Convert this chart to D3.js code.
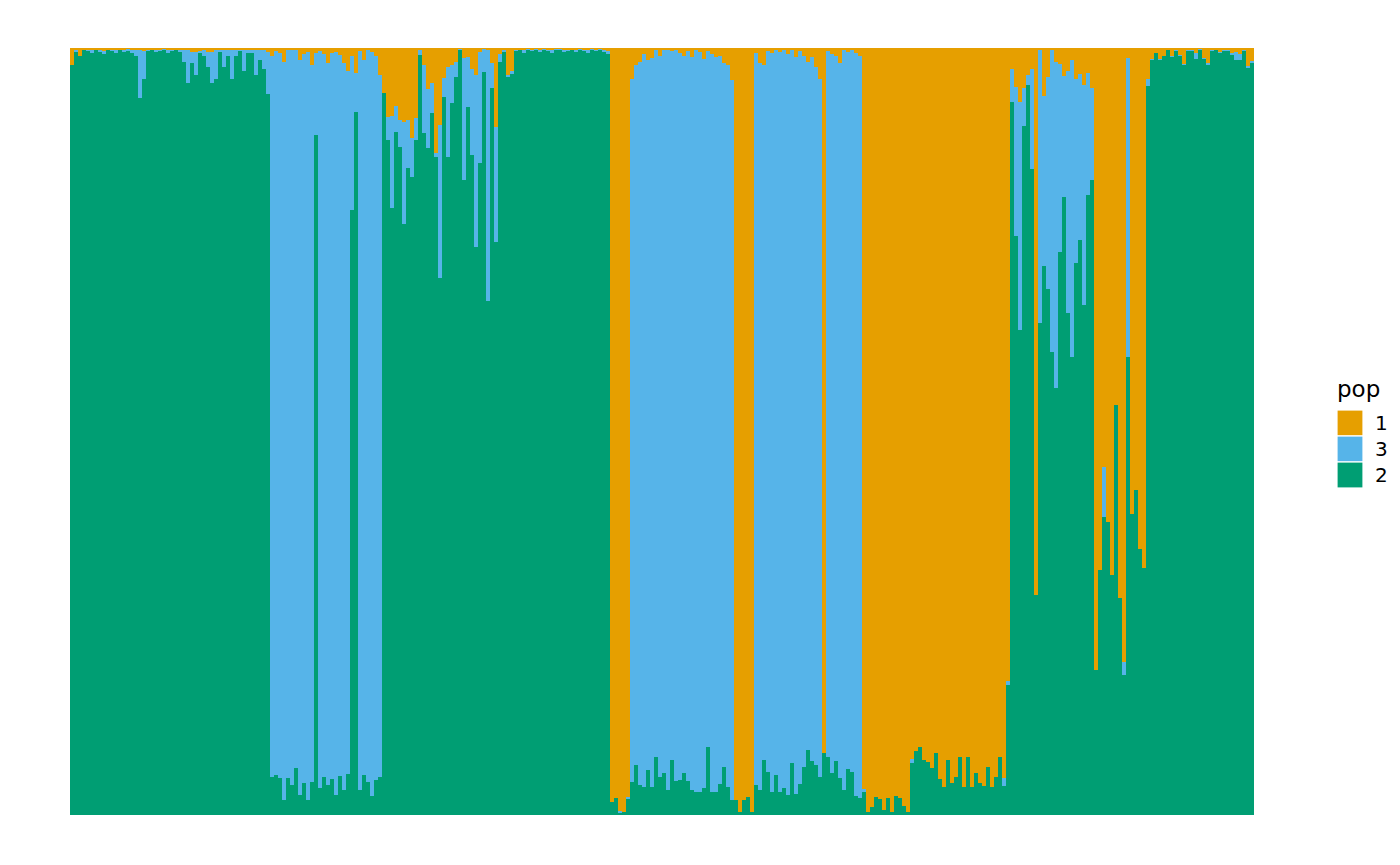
<!DOCTYPE html>
<html>
<head>
<meta charset="utf-8">
<script src="https://cdn.jsdelivr.net/npm/d3@7"></script>
<style>
  body { margin: 0; background: #fff; }
</style>
</head>
<body>
<div id="chart"></div>
<script>
// admixture proportions per individual (left to right)
// pop 2 = green (bottom), pop 3 = blue (middle), pop 1 = the rest (orange, top)
var pop2 = [
  0.978, 0.995, 0.99, 0.997, 0.996, 0.994, 0.997, 0.995, 0.992, 0.997,
  0.996, 0.993, 0.997, 0.995, 0.996, 0.994, 0.99, 0.935, 0.96, 0.996,
  0.997, 0.995, 0.996, 0.998, 0.994, 0.996, 0.997, 0.995, 0.982, 0.955,
  0.98, 0.965, 0.994, 0.99, 0.975, 0.955, 0.96, 0.995, 0.975, 0.99,
  0.96, 0.99, 0.996, 0.97, 0.993, 0.994, 0.965, 0.985, 0.972, 0.94,
  0.05, 0.052, 0.048, 0.02, 0.048, 0.039, 0.061, 0.026, 0.042, 0.02,
  0.043, 0.887, 0.035, 0.05, 0.039, 0.047, 0.026, 0.051, 0.033, 0.053,
  0.789, 0.917, 0.033, 0.052, 0.043, 0.025, 0.046, 0.05,
  0.941, 0.88, 0.792, 0.89, 0.871, 0.77, 0.843, 0.832, 0.88, 0.991,
  0.889, 0.87, 0.915, 0.858, 0.70, 0.936, 0.858, 0.928, 0.962, 0.998,
  0.828, 0.923, 0.86, 0.74, 0.85, 0.969, 0.67, 0.948, 0.747, 0.982,
  0.995, 0.962, 0.966, 0.996, 0.997, 0.994, 0.997, 0.996, 0.998, 0.995,
  0.997, 0.996, 0.994, 0.997, 0.998, 0.995, 0.996, 0.997, 0.995, 0.998,
  0.996, 0.994, 0.997, 0.996, 0.998, 0.995, 0.992,
  0.017, 0.022, 0.003, 0.004, 0.021,
  0.043, 0.065, 0.039, 0.036, 0.059, 0.036, 0.076, 0.05, 0.055, 0.033,
  0.072, 0.044, 0.046, 0.055, 0.044, 0.033, 0.03, 0.03, 0.035, 0.089,
  0.03, 0.03, 0.04, 0.062, 0.037, 0.02,
  0.02, 0.004, 0.02, 0.024, 0.004,
  0.039, 0.032, 0.072, 0.056, 0.03, 0.052, 0.03, 0.035, 0.026, 0.068,
  0.028, 0.04, 0.063, 0.085, 0.07, 0.065, 0.05,
  0.081,
  0.075, 0.055, 0.07, 0.048, 0.033, 0.06, 0.056, 0.025, 0.022,
  0.03, 0.004, 0.01, 0.023, 0.021, 0.006, 0.022, 0.004, 0.025, 0.022,
  0.012, 0.004, 0.068, 0.084, 0.089, 0.072, 0.069, 0.061, 0.081, 0.047,
  0.037, 0.072, 0.042, 0.05, 0.076, 0.037, 0.076, 0.037, 0.055, 0.042,
  0.038, 0.063, 0.036, 0.05, 0.076, 0.038,
  0.17, 0.93, 0.755, 0.632, 0.898, 0.952, 0.842, 0.287, 0.641, 0.716,
  0.686, 0.604, 0.557, 0.734, 0.806, 0.654, 0.597, 0.72, 0.75, 0.665,
  0.808, 0.828, 0.189, 0.319, 0.389, 0.382, 0.313, 0.535, 0.283, 0.183,
  0.597, 0.392, 0.424, 0.347, 0.322,
  0.95, 0.984, 0.993, 0.984, 0.989, 0.997, 0.988, 0.996, 0.989, 0.978,
  0.996, 0.996, 0.986, 0.997, 0.986, 0.978, 0.996, 0.997, 0.993, 0.996,
  0.996, 0.991, 0.985, 0.984, 0.996, 0.974, 0.98
];
var pop3 = [
  0, 0.002, 0, 0.001, 0.002, 0.004, 0.001, 0.003, 0.004, 0.001,
  0.002, 0.005, 0.001, 0.002, 0.003, 0.004, 0.008, 0.062, 0.036, 0.002,
  0.001, 0.003, 0.002, 0.001, 0.004, 0.002, 0.001, 0.003, 0.015, 0.042,
  0.015, 0.03, 0.002, 0.007, 0.02, 0.04, 0.037, 0.003, 0.022, 0.007,
  0.037, 0.007, 0.002, 0.027, 0.005, 0.004, 0.032, 0.012, 0.025, 0.055,
  0.94, 0.944, 0.946, 0.962, 0.949, 0.959, 0.936, 0.958, 0.95, 0.975,
  0.935, 0.107, 0.961, 0.942, 0.941, 0.946, 0.969, 0.94, 0.947, 0.917,
  0.201, 0.05, 0.963, 0.932, 0.954, 0.97, 0.944, 0.915,
  0, 0.03, 0.119, 0.034, 0.035, 0.134, 0.063, 0.051, 0.029, 0.006,
  0.089, 0.076, 0.039, 0.005, 0.2, 0.025, 0.117, 0.05, 0.02, 0.001,
  0.159, 0.065, 0.113, 0.225, 0.145, 0.03, 0.327, 0.032, 0.15, 0.01,
  0.002, 0.003, 0.004, 0.002, 0.001, 0.003, 0.002, 0.002, 0.001, 0.003,
  0.002, 0.001, 0.004, 0.002, 0.001, 0.003, 0.002, 0.001, 0.003, 0.001,
  0.002, 0.003, 0.002, 0.001, 0.001, 0.003, 0.004,
  0, 0, 0.002, 0, 0.003,
  0.917, 0.913, 0.943, 0.956, 0.925, 0.951, 0.922, 0.939, 0.942, 0.965,
  0.924, 0.953, 0.948, 0.935, 0.952, 0.955, 0.967, 0.965, 0.951, 0.907,
  0.962, 0.958, 0.95, 0.918, 0.941, 0.938,
  0, 0, 0, 0, 0,
  0.954, 0.948, 0.906, 0.94, 0.964, 0.945, 0.965, 0.963, 0.966, 0.929,
  0.96, 0.956, 0.927, 0.897, 0.918, 0.91, 0.91,
  0,
  0.921, 0.937, 0.92, 0.932, 0.964, 0.935, 0.941, 0.969, 0.968,
  0.004, 0, 0, 0, 0, 0, 0, 0, 0, 0,
  0, 0, 0.005, 0, 0, 0, 0, 0, 0, 0,
  0, 0, 0, 0, 0, 0, 0, 0, 0, 0,
  0, 0, 0, 0, 0, 0.01,
  0.005, 0.043, 0.194, 0.297, 0.05, 0.013, 0.13, 0, 0.356, 0.221,
  0.276, 0.393, 0.425, 0.245, 0.157, 0.316, 0.387, 0.24, 0.216, 0.287,
  0.16, 0.12, 0, 0, 0.065, 0, 0, 0, 0, 0.016,
  0.39, 0, 0, 0, 0,
  0.01, 0.002, 0.001, 0.002, 0.001, 0.001, 0.002, 0.001, 0.002, 0.001,
  0.001, 0.002, 0.008, 0.002, 0.001, 0.002, 0.001, 0.001, 0.002, 0.001,
  0.001, 0.002, 0.01, 0.008, 0.001, 0.002, 0.003
];
var popKeys = ["1", "3", "2"];           // legend order, top to bottom
var popColors = ["#E69F00", "#56B4E9", "#009E73"];

var width = 1400, height = 865;
var plotLeft = 70, plotRight = 1254, plotTop = 48, plotBottom = 815;
var fontFamily = "DejaVu Sans, Arial, sans-serif";

// each row of the Q matrix sums to 1, so pop 1 is what is left over
var rows = pop2.map(function (g, i) {
  return { id: i, "2": g, "3": pop3[i], "1": Math.max(0, 1 - g - pop3[i]) };
});

var x = d3.scaleBand()
  .domain(rows.map(function (d) { return d.id; }))
  .range([plotLeft, plotRight])
  .paddingInner(0)
  .paddingOuter(0);
var y = d3.scaleLinear().domain([0, 1]).range([plotBottom, plotTop]);
var color = d3.scaleOrdinal().domain(popKeys).range(popColors);

// stacked from the bottom: 2, then 3, then 1
var series = d3.stack().keys(["2", "3", "1"])(rows);

var svg = d3.select("#chart")
  .append("svg")
  .attr("width", width)
  .attr("height", height);

svg.append("g")
  .selectAll("g")
  .data(series)
  .join("g")
  .attr("fill", function (s) { return color(s.key); })
  .selectAll("rect")
  .data(function (s) { return s; })
  .join("rect")
  .attr("x", function (d) { return x(d.data.id); })
  .attr("width", x.bandwidth() + 0.4)
  .attr("y", function (d) { return y(d[1]); })
  .attr("height", function (d) { return Math.max(0, y(d[0]) - y(d[1])); })
  .attr("shape-rendering", "crispEdges");

// legend
var legend = svg.append("g").attr("transform", "translate(1337,0)");
legend.append("text")
  .attr("x", 0)
  .attr("y", 397)
  .attr("font-size", "23px")
  .attr("font-family", fontFamily)
  .attr("fill", "#000")
  .text("pop");

popKeys.forEach(function (k, i) {
  var ky = 410 + i * 26;
  legend.append("rect")
    .attr("x", 0)
    .attr("y", ky)
    .attr("width", 26)
    .attr("height", 26)
    .attr("fill", color(k))
    .attr("stroke", "#fff")
    .attr("stroke-width", 1.2);
  legend.append("text")
    .attr("x", 38)
    .attr("y", ky + 13)
    .attr("dominant-baseline", "central")
    .attr("font-size", "20px")
    .attr("font-family", fontFamily)
    .attr("fill", "#000")
    .text(k);
});
</script>
</body>
</html>
